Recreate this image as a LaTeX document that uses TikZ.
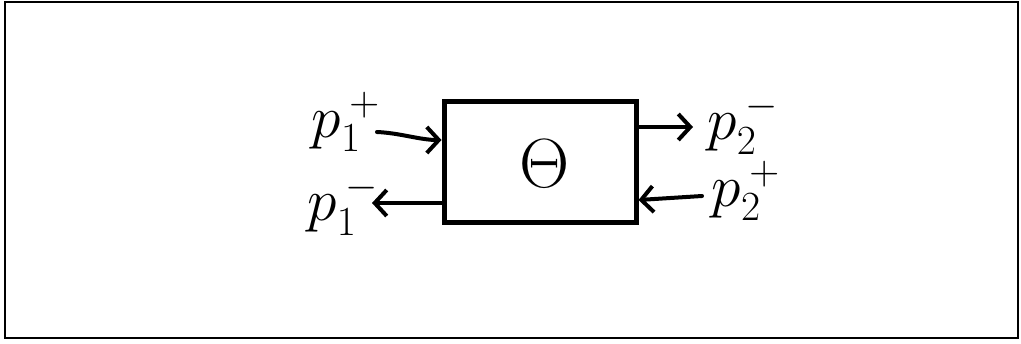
\documentclass[tikz,border=0pt]{standalone}
\usetikzlibrary{arrows.meta,calc}
\newcommand{\plbl}[2]{\scalebox{1.2}{\fontsize{24.88}{30}\selectfont$p_{\scriptscriptstyle #1}^{\,\scriptscriptstyle #2}$}}
\begin{document}
\begin{tikzpicture}[x=0.5pt,y=-0.5pt,
  frame/.style={draw=black,line width=1pt},
  blockbox/.style={draw=black,line width=2.5pt,minimum width=96pt,minimum height=60.5pt,inner sep=0pt},
  conn/.style={line width=2pt,line cap=round,-{Straight Barb[length=6pt,width=13pt,line width=2pt]}},
  lbl/.style={inner sep=0pt}
]
\useasboundingbox (0,0) rectangle (1021,343);
\draw[frame] (5,2) rectangle (1018,338);
\node[blockbox] (box) at (540,161.5) {};
\node[inner sep=0pt] (theta) at (545,164) {\scalebox{1.4}{\fontsize{24.88}{30}\selectfont$\Theta$}};
\node[lbl] (p1p) at (346,122) {\plbl{1}{+}};
\node[lbl] (p1m) at (343,205) {\plbl{1}{-}};
\node[lbl] (p2m) at (743,124) {\plbl{2}{-}};
\node[lbl] (p2p) at (746,191) {\plbl{2}{+}};
\coordinate (a1s) at (377,132);
\coordinate (a2e) at (372,203);
\coordinate (a3e) at (693,127);
\coordinate (a4s) at (702,196);
\draw[conn] (a1s) .. controls (400,133) and (420,140) .. ($(box.west)+(0,-21.5)$);
\draw[conn] ($(box.west)+(0,41.5)$) -- (a2e);
\draw[conn] ($(box.east)+(0,-34.5)$) -- (a3e);
\draw[conn] (a4s) -- ($(box.east)+(0,38.5)$);
\end{tikzpicture}
\end{document}
